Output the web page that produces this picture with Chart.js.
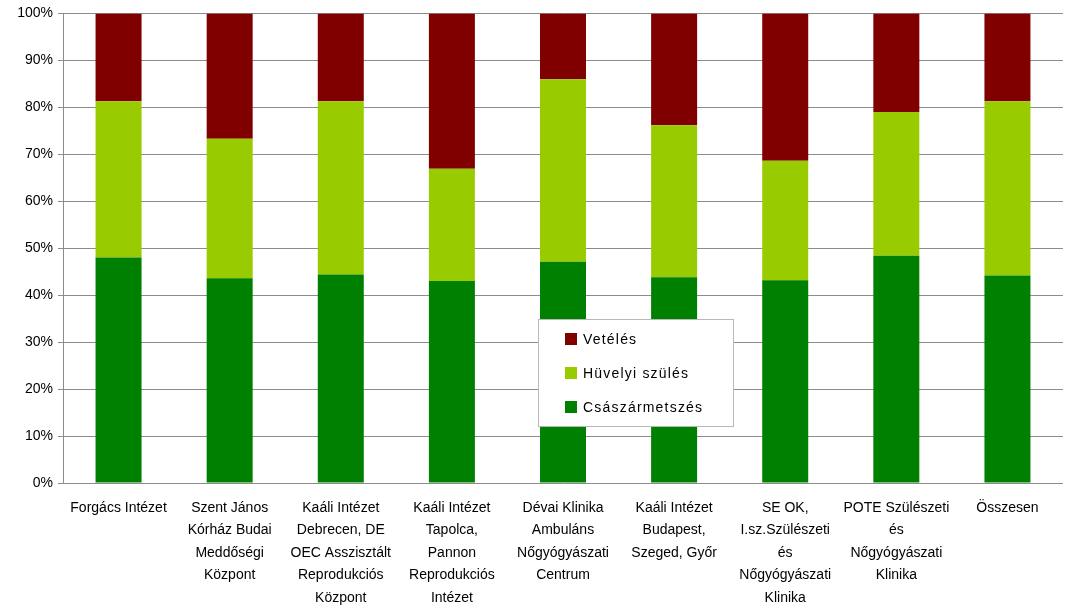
<!DOCTYPE html>
<html>
<head>
<meta charset="utf-8">
<script src="https://cdn.jsdelivr.net/npm/chart.js@4.4.1/dist/chart.umd.min.js"></script>
<style>
    html, body { margin: 0; padding: 0; background: #fff; }
    #wrap { width: 1072px; height: 609px; }
</style>
</head>
<body>
<div id="wrap"><canvas id="chart"></canvas></div>
<script>
const categories = [
    ['Forgács Intézet'],
    ['Szent János', 'Kórház Budai', 'Meddőségi', 'Központ'],
    ['Kaáli Intézet', 'Debrecen, DE', 'OEC Asszisztált', 'Reprodukciós', 'Központ'],
    ['Kaáli Intézet', 'Tapolca,', 'Pannon', 'Reprodukciós', 'Intézet'],
    ['Dévai Klinika', 'Ambuláns', 'Nőgyógyászati', 'Centrum'],
    ['Kaáli Intézet', 'Budapest,', 'Szeged, Győr'],
    ['SE OK,', 'I.sz.Szülészeti', 'és', 'Nőgyógyászati', 'Klinika'],
    ['POTE Szülészeti', 'és', 'Nőgyógyászati', 'Klinika'],
    ['Összesen']
];
const csaszarmetszes = [48.0, 43.6, 44.4, 43.0, 47.1, 43.8, 43.2, 48.4, 44.2];
const huvelyiSzules = [33.3, 29.7, 36.9, 23.9, 38.9, 32.4, 25.4, 30.6, 37.1];
const veteles = [18.7, 26.7, 18.7, 33.1, 14.0, 23.8, 31.4, 21.0, 18.7];
const yTicks = [0, 10, 20, 30, 40, 50, 60, 70, 80, 90, 100];

const fontFamily = '"Liberation Sans", Arial, sans-serif';

// legend box drawn inside the plot, newest series on top
const boxLegend = {
    id: 'boxLegend',
    afterDatasetsDraw(chart) {
        const ctx = chart.ctx;
        const x = 538, y = 319, w = 195, h = 107;
        ctx.save();
        ctx.fillStyle = '#fff';
        ctx.fillRect(x, y, w, h);
        ctx.strokeStyle = '#b8b8b8';
        ctx.lineWidth = 1;
        ctx.strokeRect(x + 0.5, y + 0.5, w, h);
        const items = chart.data.datasets.slice().reverse();
        ctx.font = '14px ' + fontFamily;
        ctx.textBaseline = 'middle';
        if ('letterSpacing' in ctx) ctx.letterSpacing = '1.2px';
        items.forEach(function (ds, i) {
            const cy = y + 20 + i * 34;
            ctx.fillStyle = ds.backgroundColor;
            ctx.fillRect(x + 27, cy - 6, 12, 12);
            ctx.fillStyle = '#000';
            ctx.fillText(ds.label, x + 45, cy + 1);
        });
        ctx.restore();
    }
};

const ctx = document.getElementById('chart').getContext('2d');
new Chart(ctx, {
    type: 'bar',
    data: {
        labels: categories,
        datasets: [{
            label: 'Császármetszés',
            data: csaszarmetszes,
            backgroundColor: '#008000'
        }, {
            label: 'Hüvelyi szülés',
            data: huvelyiSzules,
            backgroundColor: '#99cc00'
        }, {
            label: 'Vetélés',
            data: veteles,
            backgroundColor: '#800000'
        }]
    },
    options: {
        responsive: true,
        maintainAspectRatio: false,
        animation: false,
        datasets: {
            bar: {
                categoryPercentage: 1,
                barPercentage: 0.414,
                borderWidth: 0
            }
        },
        layout: {
            padding: { top: 12, right: 9, left: 0, bottom: 0 }
        },
        plugins: {
            legend: { display: false },
            tooltip: { enabled: false }
        },
        scales: {
            x: {
                stacked: true,
                grid: { display: false, drawTicks: false },
                border: { display: false },
                ticks: {
                    autoSkip: false,
                    maxRotation: 0,
                    minRotation: 0,
                    padding: 14,
                    color: '#000',
                    font: { family: fontFamily, size: 14, lineHeight: 1.6 }
                },
                afterFit: function (scale) { scale.height = 126; }
            },
            y: {
                stacked: true,
                min: 0,
                max: 100,
                afterBuildTicks: function (scale) {
                    scale.ticks = yTicks.map(v => ({ value: v }));
                },
                grid: { color: '#8c8c8c', lineWidth: 1, tickLength: 5 },
                border: { color: '#8c8c8c' },
                ticks: {
                    padding: 5,
                    color: '#000',
                    font: { family: fontFamily, size: 14 },
                    callback: function (v) { return v + '%'; }
                },
                afterFit: function (scale) { scale.width = 63; }
            }
        }
    },
    plugins: [boxLegend]
});
</script>
</body>
</html>
